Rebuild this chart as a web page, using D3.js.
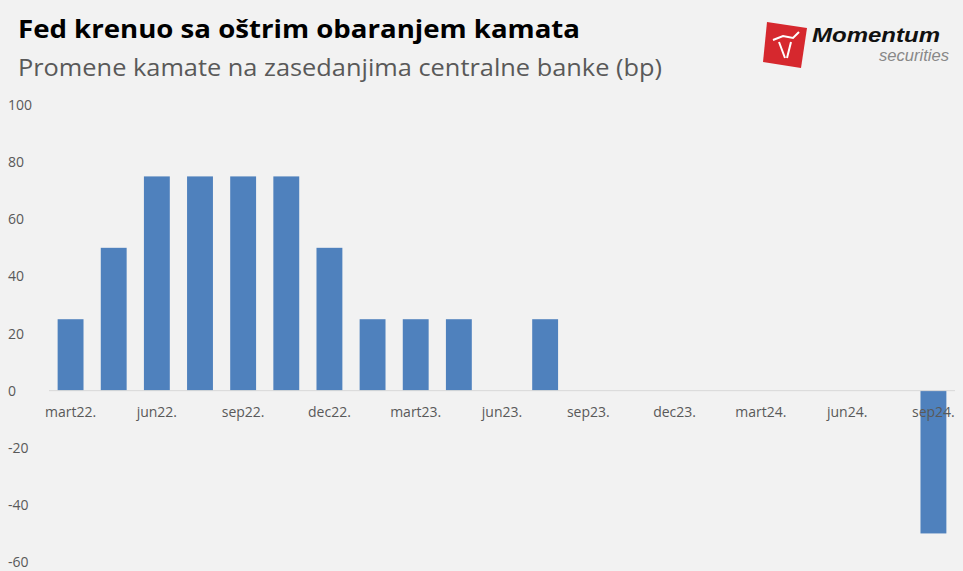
<!DOCTYPE html><html><head><meta charset="utf-8">
<script src="https://cdn.jsdelivr.net/npm/d3@7"></script>
<style>body{margin:0;background:#f2f2f2;font-family:"Open Sans",Calibri,sans-serif}</style></head><body>
<svg id="c" width="963" height="571"></svg>
<script>
const categories=["mar22","maj22","jun22","jul22","sep22","nov22","dec22","feb23","mar23","maj23","jun23","jul23","sep23","nov23","dec23","jan24","mar24","maj24","jun24","jul24","sep24"];
const tickLabels=["mart22.","","jun22.","","sep22.","","dec22.","","mart23.","","jun23.","","sep23.","","dec23.","","mart24.","","jun24.","","sep24."];
const values=[25,50,75,75,75,75,50,25,25,25,0,25,0,0,0,0,0,0,0,0,-50];
const yTicks=[-60,-40,-20,0,20,40,60,80,100];
const svg=d3.select("#c");
svg.append("rect").attr("width",963).attr("height",571).attr("fill","#f2f2f2");
const x=d3.scaleBand().domain(categories).range([49,955]).paddingInner(0.4).paddingOuter(0.2);
const y=d3.scaleLinear().domain([-60,100]).range([562,105]);
svg.append("text").attr("x",18).attr("y",38).attr("font-size",25).attr("font-weight","bold").attr("fill","#000").attr("textLength",562).attr("lengthAdjust","spacingAndGlyphs").text("Fed krenuo sa oštrim obaranjem kamata");
svg.append("text").attr("x",18).attr("y",76).attr("font-size",23.5).attr("fill","#595959").attr("textLength",644).attr("lengthAdjust","spacingAndGlyphs").text("Promene kamate na zasedanjima centralne banke (bp)");
svg.selectAll(".yt").data(yTicks).join("text").attr("x",8).attr("y",d=>y(d)+5).attr("font-size",14).attr("fill","#595959").text(d=>d);
svg.selectAll(".bar").data(values).join("rect").attr("fill","#4f81bd")
 .attr("x",(d,i)=>x(categories[i])).attr("width",x.bandwidth())
 .attr("y",d=>y(Math.max(0,d))).attr("height",d=>Math.abs(y(d)-y(0)));
svg.append("line").attr("x1",49).attr("x2",955).attr("y1",y(0)).attr("y2",y(0)).attr("stroke","#d9d9d9");
svg.selectAll(".xt").data(tickLabels).join("text").attr("text-anchor","middle").attr("font-size",14).attr("fill","#595959")
 .attr("x",(d,i)=>x(categories[i])+x.bandwidth()/2).attr("y",y(0)+26).text(d=>d);
// logo
const g=svg.append("g").attr("transform","translate(763,18)");
g.append("path").attr("d","M4,4 L44,10 L38,50 L0,44 Z").attr("fill","#d6282e");
g.append("path").attr("d","M10,22 L20,18 L30,20 L36,14 M16,24 L22,40 M28,24 L24,40").attr("stroke","#fff").attr("stroke-width",2).attr("fill","none");
g.append("text").attr("x",49).attr("y",24).attr("font-size",21).attr("font-weight","bold").attr("font-style","italic").attr("fill","#111").attr("font-family","Arial,Liberation Sans").attr("textLength",128).attr("lengthAdjust","spacingAndGlyphs").text("Momentum");
g.append("text").attr("x",116).attr("y",43).attr("font-size",16).attr("font-style","italic").attr("fill","#888").attr("font-family","Arial,Liberation Sans").attr("textLength",70).attr("lengthAdjust","spacingAndGlyphs").text("securities");
</script></body></html>
